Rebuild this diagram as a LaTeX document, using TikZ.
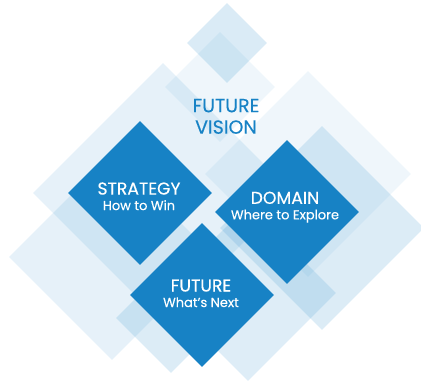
\documentclass[tikz,border=0pt]{standalone}
\usepackage{fontspec}
\setmainfont{Poppins}[FakeBold=0.25]
\usepackage{tikz}
\usetikzlibrary{shapes.geometric}
\definecolor{visionblue}{HTML}{1782C5}
\tikzstyle{Pane}=[diamond, aspect=1, inner sep=0pt, fill=visionblue, draw=none]
\tikzstyle{Tile}=[diamond, aspect=1, inner sep=0pt, minimum size=144, fill=visionblue]
\tikzstyle{TileText}=[text=white, align=center, inner sep=0pt, font=\fontsize{17.2}{15.5}\selectfont]
\newcommand{\sub}[1]{{\fontsize{13}{13}\selectfont #1}}

\begin{document}
\begin{tikzpicture}[x=1pt, y=-1pt]
    \useasboundingbox (0,0) rectangle (421,384);

    % pale panes behind the three tiles
    \path
    (163,193) node[Pane, minimum size=260, fill opacity=0.11] (paneC) {}
    (112,257) node[Pane, minimum size=206, fill opacity=0.11] (paneD) {}
    (308,174) node[Pane, minimum size=206, fill opacity=0.07] (paneF) {}
    (220,87) node[Pane, minimum size=110, fill opacity=0.07] (paneB) {}
    (227,43) node[Pane, minimum size=80, fill opacity=0.16] (paneA) {}
    (322,228) node[Pane, minimum size=204, fill opacity=0.15] (paneG) {}
    (248,293) node[Pane, minimum size=176, fill opacity=0.14] (paneJ) {}
    (171,318) node[Pane, minimum size=110, fill opacity=0.15] (paneE) {};

    % the three tiles
    \path
    (140,193) node[Tile] (strategy) {}
    (287,212) node[Tile] (domain) {}
    (202,295) node[Tile] (future) {};

    \path
    (139,196.3) node[TileText] (strategyText) {STRATEGY\\\sub{How to Win}}
    (285,207.2) node[TileText] (domainText) {DOMAIN\\\sub{Where to Explore}}
    (201,293.3) node[TileText] (futureText) {FUTURE\\\sub{What's Next}};

    \path (226,116.4) node[text=visionblue, align=center, inner sep=0pt,
        font=\fontsize{19}{21.5}\selectfont] (vision) {FUTURE\\VISION};
\end{tikzpicture}
\end{document}
